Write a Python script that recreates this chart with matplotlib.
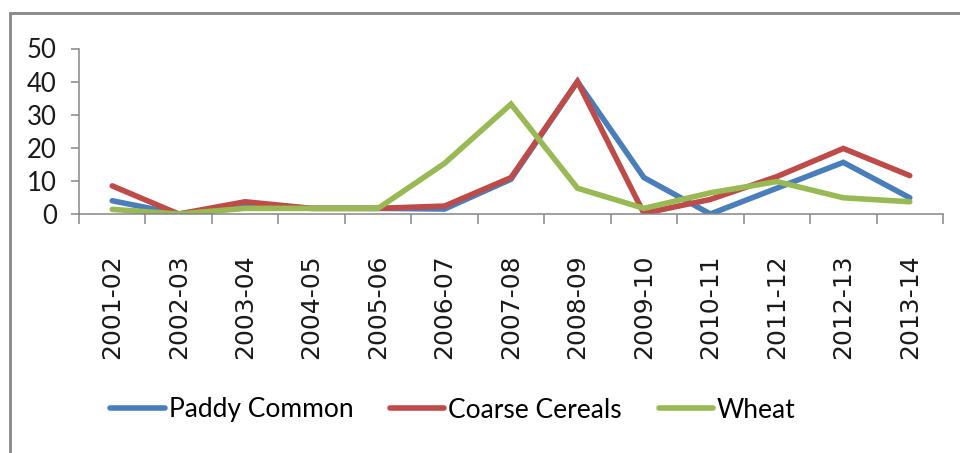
import matplotlib
matplotlib.use("Agg")
import matplotlib.pyplot as plt
from matplotlib.patches import Rectangle
from matplotlib.ticker import FixedLocator, NullFormatter

# Season categories and series (percent)
seasons = ["2001-02", "2002-03", "2003-04", "2004-05", "2005-06", "2006-07", "2007-08",
           "2008-09", "2009-10", "2010-11", "2011-12", "2012-13", "2013-14"]
paddy_common = [4.0, 0.0, 2.7, 1.7, 1.7, 1.5, 10.5, 40.0, 11.0, 0.0, 7.8, 15.6, 4.9]
coarse_cereals = [8.5, 0.0, 3.7, 1.7, 1.7, 2.4, 11.0, 40.0, 0.2, 4.4, 11.3, 19.8, 11.6]
wheat = [1.4, 0.0, 1.7, 1.7, 1.7, 15.3, 33.2, 7.8, 1.7, 6.4, 9.8, 4.9, 3.7]
y_ticks = [0, 10, 20, 30, 40, 50]

narrow = ["Lato", "DejaVu Sans"]
grey = "#868686"

fig = plt.figure(figsize=(9.6, 4.53), dpi=100)
fig.patch.set_facecolor("white")

# outer chart frame
frame = Rectangle((10 / 960, -0.2), 1.2, 1 - 13 / 453 + 0.2, transform=fig.transFigure,
                  fill=False, edgecolor=grey, linewidth=2.0, clip_on=False)
fig.add_artist(frame)

ax = fig.add_axes([79 / 960, 1 - 214 / 453, 864 / 960, (214 - 48.5) / 453])

x = list(range(len(seasons)))
ax.plot(x, paddy_common, color="#4A7EBB", linewidth=4, label="Paddy Common",
        solid_capstyle="round", solid_joinstyle="miter")
ax.plot(x, coarse_cereals, color="#BE4B48", linewidth=4, label="Coarse Cereals",
        solid_capstyle="round", solid_joinstyle="miter")
ax.plot(x, wheat, color="#98B954", linewidth=4, label="Wheat",
        solid_capstyle="round", solid_joinstyle="miter")

ax.set_xlim(-0.5, len(seasons) - 0.5)
ax.set_ylim(0, 50)

for side in ("top", "right"):
    ax.spines[side].set_visible(False)
for side in ("left", "bottom"):
    ax.spines[side].set_color(grey)
    ax.spines[side].set_linewidth(1.1)

ax.set_yticks(y_ticks)
ax.set_yticklabels([str(v) for v in y_ticks], family=narrow, fontsize=18.5, color="#1a1a1a")
ax.tick_params(axis="y", direction="out", length=6, width=1.1, color=grey, pad=10)

ax.set_xticks(x)
ax.set_xticklabels(seasons, rotation=90, family="DejaVu Sans", fontsize=18, color="#1a1a1a")
ax.tick_params(axis="x", which="major", length=0, pad=29)
ax.xaxis.set_minor_locator(FixedLocator([i - 0.5 for i in range(len(seasons) + 1)]))
ax.xaxis.set_minor_formatter(NullFormatter())
ax.tick_params(axis="x", which="minor", direction="out", length=7.5, width=1.1, color=grey)

leg = fig.legend(loc="center", bbox_to_anchor=(453 / 960, 1 - 410 / 453), ncol=3,
                 frameon=False, prop={"family": narrow, "size": 19},
                 handlelength=2.05, handletextpad=0.15, columnspacing=1.4)
for line in leg.get_lines():
    line.set_linewidth(4)
    line.set_solid_capstyle("round")

fig.savefig("out.png", dpi=100, facecolor="white")
